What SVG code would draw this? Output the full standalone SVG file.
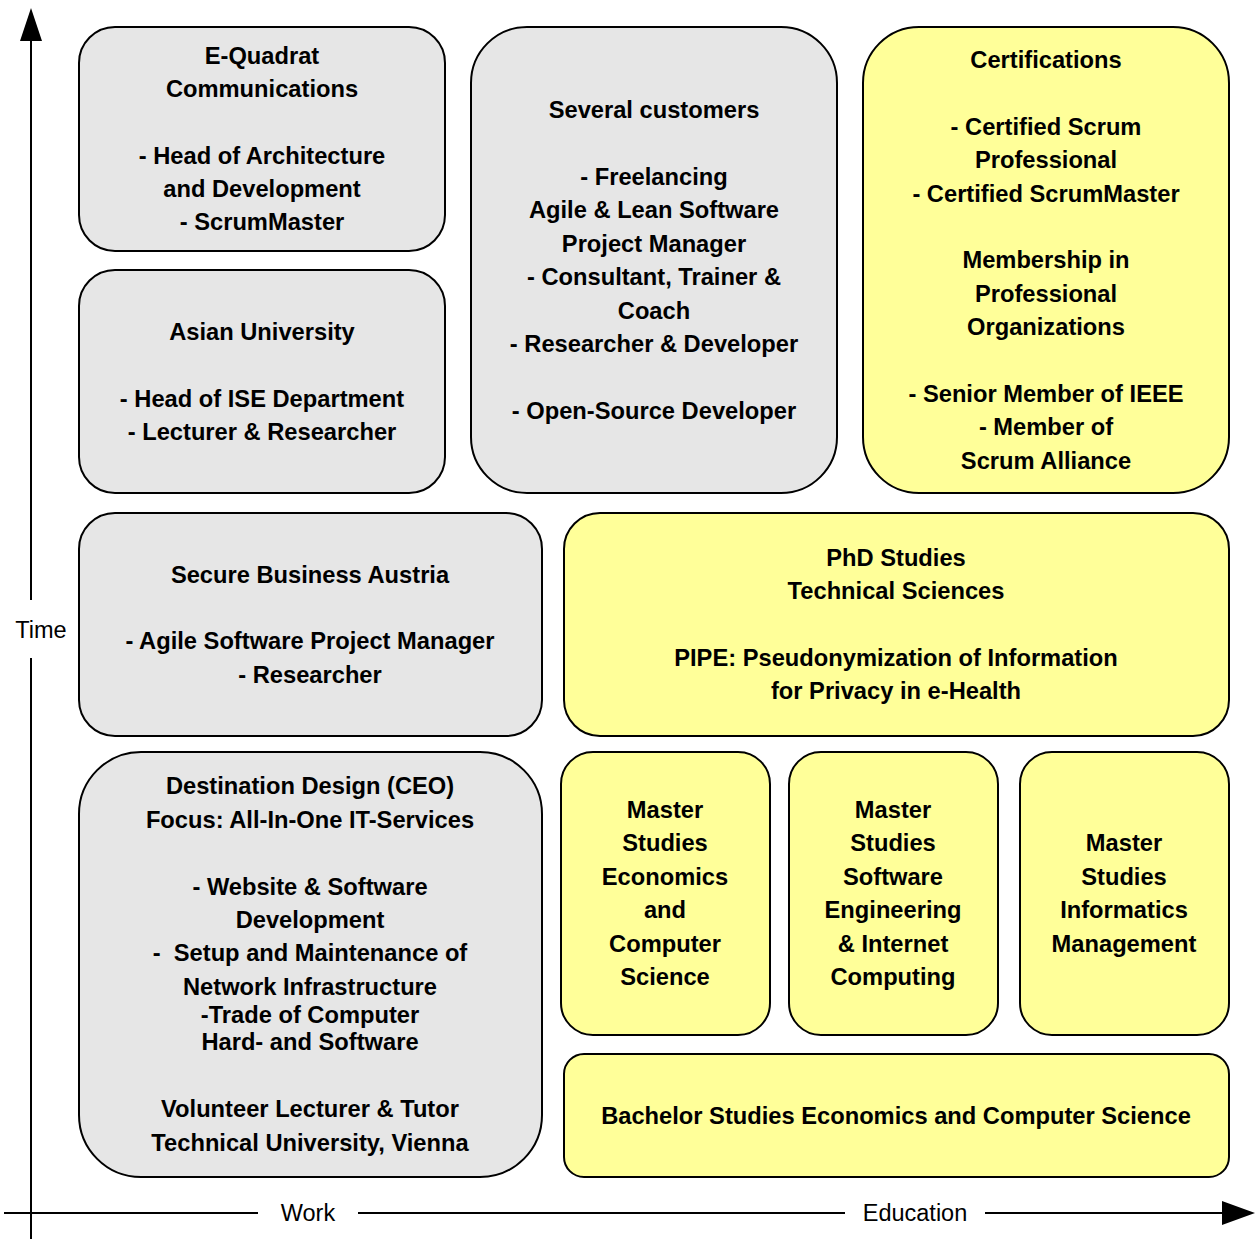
<svg xmlns="http://www.w3.org/2000/svg" width="1257" height="1239" viewBox="0 0 1257 1239">
<style>
.g{fill:#e6e6e6;stroke:#000;stroke-width:2}
.y{fill:#ffff99;stroke:#000;stroke-width:2}
.t{font-family:"Liberation Sans",Arial,sans-serif;font-weight:bold;font-size:23.7px;fill:#000;text-anchor:middle}
.a{font-family:"Liberation Sans",Arial,sans-serif;font-size:23.5px;fill:#000;text-anchor:middle}
.ax{stroke:#000;stroke-width:2;fill:none}
</style>
<rect width="1257" height="1239" fill="#fff"/>
<g id="axes">
<line class="ax" x1="31" y1="1239" x2="31" y2="658"/>
<line class="ax" x1="31" y1="600" x2="31" y2="38"/>
<polygon points="31,8 20,41 42,41" fill="#000"/>
<line class="ax" x1="4" y1="1213" x2="258" y2="1213"/>
<line class="ax" x1="358" y1="1213" x2="845" y2="1213"/>
<line class="ax" x1="985" y1="1213" x2="1225" y2="1213"/>
<polygon points="1255,1213 1222,1201 1222,1225" fill="#000"/>
<text class="a" x="41" y="638">Time</text>
<text class="a" x="308" y="1221">Work</text>
<text class="a" x="915" y="1221">Education</text>
</g>
<g id="equadrat">
<rect class="g" x="79" y="27" width="366" height="224" rx="36"/>
<text class="t"><tspan x="262" y="64">E-Quadrat</tspan><tspan x="262" y="97">Communications</tspan><tspan x="262" y="164">- Head of Architecture</tspan><tspan x="262" y="197">and Development</tspan><tspan x="262" y="230">- ScrumMaster</tspan></text>
</g>
<g id="asian">
<rect class="g" x="79" y="270" width="366" height="223" rx="36"/>
<text class="t"><tspan x="262" y="340">Asian University</tspan><tspan x="262" y="407">- Head of ISE Department</tspan><tspan x="262" y="440">- Lecturer &amp; Researcher</tspan></text>
</g>
<g id="customers">
<rect class="g" x="471" y="27" width="366" height="466" rx="56"/>
<text class="t"><tspan x="654" y="118">Several customers</tspan><tspan x="654" y="185">- Freelancing</tspan><tspan x="654" y="218">Agile &amp; Lean Software</tspan><tspan x="654" y="252">Project Manager</tspan><tspan x="654" y="285">- Consultant, Trainer &amp;</tspan><tspan x="654" y="319">Coach</tspan><tspan x="654" y="352">- Researcher &amp; Developer</tspan><tspan x="654" y="419">- Open-Source Developer</tspan></text>
</g>
<g id="certifications">
<rect class="y" x="863" y="27" width="366" height="466" rx="56"/>
<text class="t"><tspan x="1046" y="68">Certifications</tspan><tspan x="1046" y="135">- Certified Scrum</tspan><tspan x="1046" y="168">Professional</tspan><tspan x="1046" y="202">- Certified ScrumMaster</tspan><tspan x="1046" y="268">Membership in</tspan><tspan x="1046" y="302">Professional</tspan><tspan x="1046" y="335">Organizations</tspan><tspan x="1046" y="402">- Senior Member of IEEE</tspan><tspan x="1046" y="435">- Member of</tspan><tspan x="1046" y="469">Scrum Alliance</tspan></text>
</g>
<g id="sba">
<rect class="g" x="79" y="513" width="463" height="223" rx="36"/>
<text class="t"><tspan x="310" y="583">Secure Business Austria</tspan><tspan x="310" y="649">- Agile Software Project Manager</tspan><tspan x="310" y="683">- Researcher</tspan></text>
</g>
<g id="phd">
<rect class="y" x="564" y="513" width="665" height="223" rx="36"/>
<text class="t"><tspan x="896" y="566">PhD Studies</tspan><tspan x="896" y="599">Technical Sciences</tspan><tspan x="896" y="666">PIPE: Pseudonymization of Information</tspan><tspan x="896" y="699">for Privacy in e-Health</tspan></text>
</g>
<g id="destination">
<rect class="g" x="79" y="752" width="463" height="425" rx="62"/>
<text class="t"><tspan x="310" y="794">Destination Design (CEO)</tspan><tspan x="310" y="828">Focus: All-In-One IT-Services</tspan><tspan x="310" y="895">- Website &amp; Software</tspan><tspan x="310" y="928">Development</tspan><tspan x="310" y="961" xml:space="preserve">-  Setup and Maintenance of</tspan><tspan x="310" y="995">Network Infrastructure</tspan><tspan x="310" y="1023">-Trade of Computer</tspan><tspan x="310" y="1050">Hard- and Software</tspan><tspan x="310" y="1117">Volunteer Lecturer &amp; Tutor</tspan><tspan x="310" y="1151">Technical University, Vienna</tspan></text>
</g>
<g id="master-econ">
<rect class="y" x="561" y="752" width="209" height="283" rx="32"/>
<text class="t"><tspan x="665" y="818">Master</tspan><tspan x="665" y="851">Studies</tspan><tspan x="665" y="885">Economics</tspan><tspan x="665" y="918">and</tspan><tspan x="665" y="952">Computer</tspan><tspan x="665" y="985">Science</tspan></text>
</g>
<g id="master-se">
<rect class="y" x="789" y="752" width="209" height="283" rx="32"/>
<text class="t"><tspan x="893" y="818">Master</tspan><tspan x="893" y="851">Studies</tspan><tspan x="893" y="885">Software</tspan><tspan x="893" y="918">Engineering</tspan><tspan x="893" y="952">&amp; Internet</tspan><tspan x="893" y="985">Computing</tspan></text>
</g>
<g id="master-info">
<rect class="y" x="1020" y="752" width="209" height="283" rx="32"/>
<text class="t"><tspan x="1124" y="851">Master</tspan><tspan x="1124" y="885">Studies</tspan><tspan x="1124" y="918">Informatics</tspan><tspan x="1124" y="952">Management</tspan></text>
</g>
<g id="bachelor">
<rect class="y" x="564" y="1054" width="665" height="123" rx="20"/>
<text class="t" x="896" y="1124">Bachelor Studies Economics and Computer Science</text>
</g>
</svg>
